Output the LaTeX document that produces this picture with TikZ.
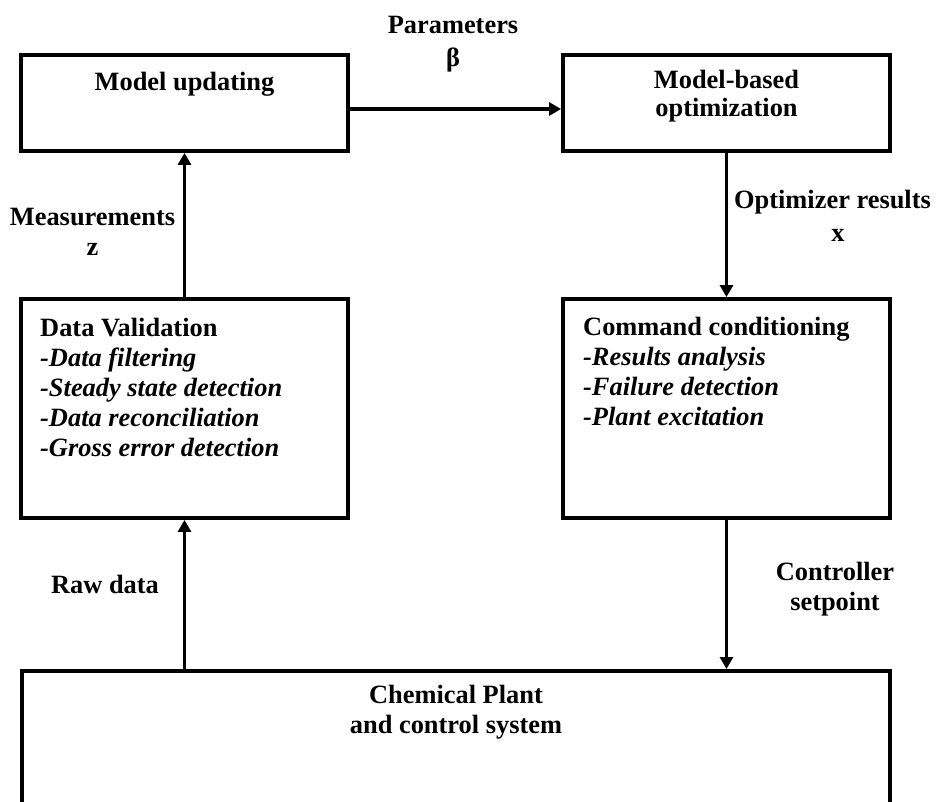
\documentclass[tikz,border=0pt]{standalone}
\usepackage{fontspec}
\setmainfont{Liberation Serif}
\usetikzlibrary{arrows.meta}
\begin{document}
\begin{tikzpicture}[x=1pt,y=1pt,
  box/.style={draw, line width=3.8pt, inner sep=0pt, minimum width=327pt},
  arr/.style={line width=3.3pt, -{Triangle[length=12pt,width=13pt]}},
  txt/.style={inner sep=0pt, font=\fontsize{26.4}{30}\selectfont\bfseries},
]
\useasboundingbox[fill=white] (0,0) rectangle (940,-801);
% boxes
\node[box, minimum height=96pt] (mu) at (184.5,-103) {};
\node[box, minimum height=96pt] (mbo) at (726.5,-103) {};
\node[box, minimum height=219pt] (dv) at (184.5,-408.5) {};
\node[box, minimum height=219pt] (cc) at (726.5,-408.5) {};
\begin{scope}
\clip (0,0) rectangle (940,-801);
\node[box, minimum width=868pt, minimum height=200pt, anchor=north] (plant) at (456,-669) {};
\end{scope}
% box texts
\node[txt, anchor=north] (mut) at (184.5,-72) {Model updating};
\node[txt, anchor=north, align=center, font=\fontsize{26.4}{28}\selectfont\bfseries] (mbot) at (726.5,-70) {Model-based\\optimization};
\node[txt, anchor=north west, align=left] (dvt) at (40,-318) {Data Validation\\\textit{-Data filtering}\\\textit{-Steady state detection}\\\textit{-Data reconciliation}\\\textit{-Gross error detection}};
\node[txt, anchor=north west, align=left] (cct) at (583,-317) {Command conditioning\\\textit{-Results analysis}\\\textit{-Failure detection}\\\textit{-Plant excitation}};
\node[txt, anchor=north, align=center] (plt) at (456,-685) {Chemical Plant\\and control system};
% connectors
\draw[arr] ([yshift=-6pt]mu.east) -- ([yshift=-6pt]mbo.west);
\draw[arr] (dv.north) -- (mu.south);
\draw[arr] (mbo.south) -- (cc.north);
\draw[arr] (plant.north -| dv.south) -- (dv.south);
\draw[arr] (cc.south) -- (cc.south |- plant.north);
% labels
\node[txt, anchor=north, align=center] (lpar) at (453,-15.6) {Parameters\\[3pt]β};
\node[txt, anchor=north, align=center] (lmeas) at (92.5,-207.6) {Measurements\\z};
\node[txt, anchor=north, align=center] (lopt) at (832.5,-190) {Optimizer results\\[3pt]\hspace*{11pt}x};
\node[txt, anchor=north] (lraw) at (105,-575) {Raw data};
\node[txt, anchor=north, align=center] (lctl) at (835,-562) {Controller\\setpoint};
\end{tikzpicture}
\end{document}
